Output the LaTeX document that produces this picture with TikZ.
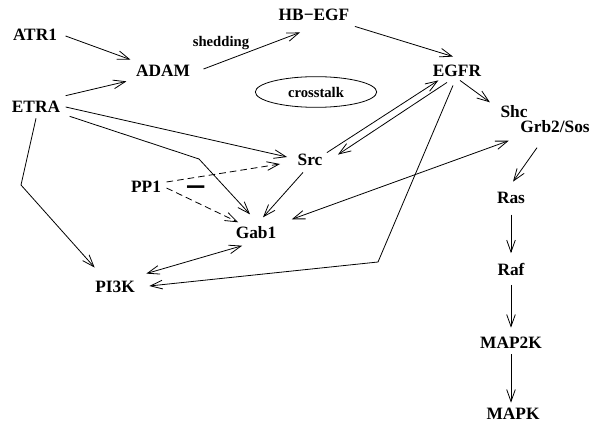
\documentclass[tikz,border=0pt]{standalone}
\usepackage{fontspec}
\setmainfont{Liberation Serif}
\usetikzlibrary{arrows.meta,calc,shapes.geometric}

\tikzset{
  prot/.style={inner sep=4pt,font=\fontsize{13}{15}\selectfont\bfseries},
  small/.style={inner sep=0.75pt,font=\fontsize{11}{13}\selectfont\bfseries},
  link/.style={line width=0.6pt,-{Straight Barb[length=9pt,width=6.5pt]}},
  both/.style={line width=0.6pt,{Straight Barb[length=9pt,width=6.5pt]}-{Straight Barb[length=9pt,width=6.5pt]}},
  inhib/.style={link,dash pattern=on 5pt off 3pt},
}

\begin{document}
\begin{tikzpicture}[x=0.75pt,y=0.75pt,yscale=-1,xscale=1]
\path[use as bounding box] (0,0) rectangle (596,424);

% Text Node
\node[prot] (atr) at (35,35) {ATR1};
% Text Node
\node[prot] (adam) at (163,71) {ADAM};
% Text Node
\node[prot] (etra) at (36,107) {ETRA};
% Text Node
\node[prot] (hbegf) at (314,15) {HB−EGF};
% Text Node
\node[prot] (egfr) at (457,71) {EGFR};
% Text Node
\node[prot] (shc) at (514,112) {Shc};
% Text Node
\node[prot] (grb) at (555,127) {Grb2/Sos};
% Text Node
\node[prot] (src) at (310,160) {Src};
% Text Node
\node[prot] (pp1) at (146,187) {PP1};
% Text Node
\node[prot] (gab) at (256,233) {Gab1};
% Text Node
\node[prot] (pik) at (115,287) {PI3K};
% Text Node
\node[prot] (ras) at (511,198) {Ras};
% Text Node
\node[prot] (raf) at (511,269) {Raf};
% Text Node
\node[prot] (mapkk) at (511,343) {MAP2K};
% Text Node
\node[prot] (mapk) at (513,414) {MAPK};
% Text Node
\node[small] (shed) at (221,43) {shedding};
% Shape: Ellipse
\node[small,ellipse,draw,line width=0.6pt,minimum width=91pt,minimum height=23pt] (cross) at (316,92) {crosstalk};
% Text Node
\node[inner sep=0pt,font=\fontsize{28}{28}\selectfont\bfseries] (minus) at (196,193) {−};

% bends
\coordinate (b1) at (378,262);
\coordinate (b2) at (199,159);
\coordinate (b3) at (21,185);

% Straight Lines
\draw[link] ($(atr.east)+(3,1)$) -- (adam.north west);
\draw[link] (etra.north east) -- ($(adam.south west)+(-4,-1)$);
\draw[link] ($(adam.east)+(8,-2)$) -- ($(hbegf.south)+(-14,6)$);
\draw[link] (hbegf.south east) -- ($(egfr.north)+(-4,-3)$);
\draw[link] ($(egfr.south)+(3,-2)$) -- ($(shc.north west)+(-5,2)$);
\draw[link] ($(src.north east)+(-1,4)$) -- ($(egfr.south west)+(11,-2)$);
\draw[link] ($(egfr.south)+(-10,0)$) -- ($(src.north east)+(10,6)$);
\draw[link] ($(egfr.south)+(-4,3)$) -- (b1) -- ($(pik.east)+(9,-1)$);
\draw[both] ($(gab.north east)+(10,-2)$) -- ($(grb.south west)+(-6,2)$);
\draw[link] ($(grb.south)+(-18,9)$) -- ($(ras.north)+(2,-5)$);
\draw[link,shorten <=4pt,shorten >=3pt] (ras) -- (raf);
\draw[link,shorten <=3pt,shorten >=3pt] (raf) -- (mapkk);
\draw[link] (mapkk) -- (mapkk |- mapk.north);
\draw[link] (etra.east) -- ($(src.west)+(-5,-3)$);
\draw[link] ($(etra.south east)+(4,-2)$) -- (b2) -- ($(gab.north)+(-6,-7)$);
\draw[link] (etra.south) -- (b3) -- ($(pik.north west)+(5,-8)$);
\draw[inhib] ($(pp1.east)+(0,-5)$) -- ($(src.west)+(-12,4)$);
\draw[inhib] ($(pp1.east)+(0,1)$) -- ($(gab.north west)+(8,1)$);
\draw[link] ($(src.south)+(-7,1)$) -- ($(gab.north)+(7,-4)$);
\draw[both] ($(gab.south west)+(12,1)$) -- ($(pik.north east)+(6,-2)$);

\end{tikzpicture}
\end{document}
